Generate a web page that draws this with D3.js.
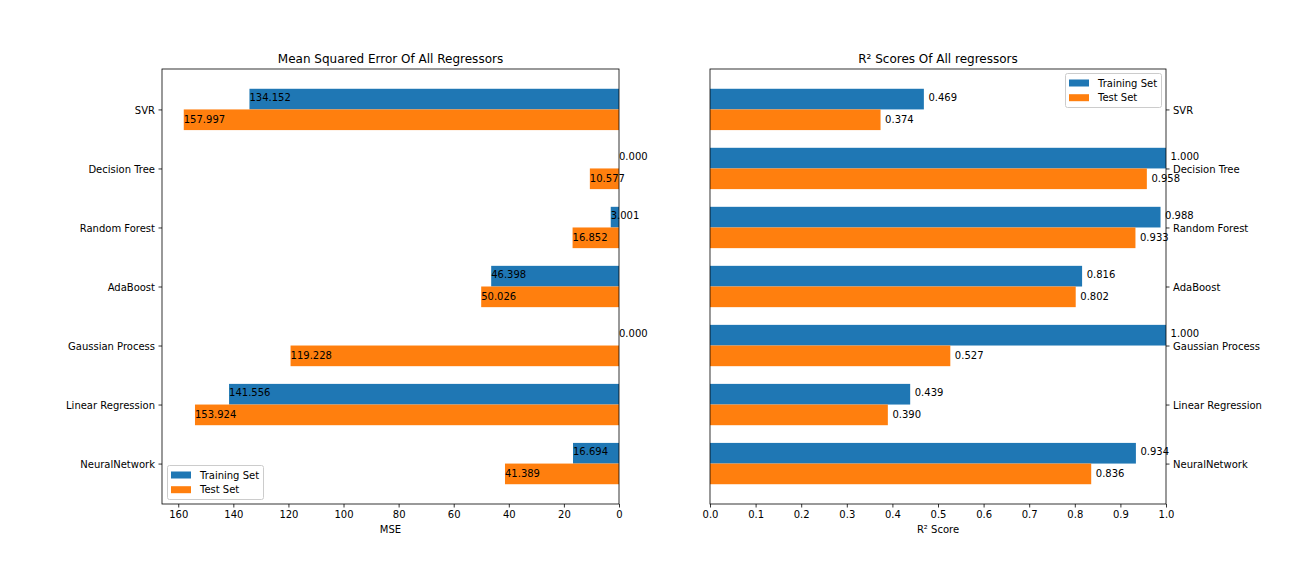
<!DOCTYPE html>
<html><head><meta charset="utf-8">
<script src="https://cdn.jsdelivr.net/npm/d3@7"></script>
<style>body{margin:0;background:#fff}svg{font-family:"DejaVu Sans",sans-serif}</style>
</head><body><svg id="c" width="1296" height="576"></svg>
<script>
const categories = ["SVR","Decision Tree","Random Forest","AdaBoost","Gaussian Process","Linear Regression","NeuralNetwork"];
const mseTrain = [134.152, 0.000, 3.001, 46.398, 0.000, 141.556, 16.694];
const mseTest = [157.997, 10.577, 16.852, 50.026, 119.228, 153.924, 41.389];
const r2Train = [0.469, 1.000, 0.988, 0.816, 1.000, 0.439, 0.934];
const r2Test = [0.374, 0.958, 0.933, 0.802, 0.527, 0.390, 0.836];
const mseTicks = [0,20,40,60,80,100,120,140,160];
const r2Ticks = [0,0.1,0.2,0.3,0.4,0.5,0.6,0.7,0.8,0.9,1.0];
const seriesNames = ["Training Set","Test Set"];
const colors = ["#1f77b4","#ff7f0e"];

const svg = d3.select("#c");
const plotTop = 69, plotBottom = 504, bw = 0.35;
const y = d3.scaleLinear().domain([-0.685, categories.length - 1 + 0.685]).range([plotTop, plotBottom]);
const fmt = d3.format(".3f");

function panel(x0, x1, xmax, train, test, ticks, tickFmt, title, xlabel, reversed, rightTicks, legendPos, labelOffset) {
  const x = d3.scaleLinear().domain([0, xmax]).range(reversed ? [x1, x0] : [x0, x1]);
  const g = svg.append("g");
  [train, test].forEach((vals, s) => {
    g.selectAll(null).data(vals).enter().append("rect")
      .attr("x", d => Math.min(x(0), x(d)))
      .attr("width", d => Math.abs(x(d) - x(0)))
      .attr("y", (d, i) => y(s === 0 ? i - bw : i))
      .attr("height", y(bw) - y(0))
      .attr("fill", colors[s]);
  });
  g.append("rect").attr("x", x0).attr("y", plotTop).attr("width", x1 - x0).attr("height", plotBottom - plotTop)
    .attr("fill", "none").attr("stroke", "#000").attr("stroke-width", 0.8);
  const xa = g.append("g").attr("transform", `translate(0,${plotBottom})`)
    .call(d3.axisBottom(x).tickValues(ticks).tickFormat(tickFmt).tickSize(3.5).tickPadding(3.5));
  xa.select(".domain").remove();
  xa.selectAll("text").attr("font-size", 10).attr("fill", "#000").attr("font-family", "DejaVu Sans");
  xa.selectAll("line").attr("stroke", "#000").attr("stroke-width", 0.8);
  const yAxis = rightTicks ? d3.axisRight(y) : d3.axisLeft(y);
  const ya = g.append("g").attr("transform", `translate(${rightTicks ? x1 : x0},0)`)
    .call(yAxis.tickValues(d3.range(categories.length)).tickFormat(i => categories[i]).tickSize(3.5).tickPadding(3.5));
  ya.select(".domain").remove();
  ya.selectAll("text").attr("font-size", 10).attr("fill", "#000").attr("font-family", "DejaVu Sans").attr("dy", "0.4em");
  ya.selectAll("line").attr("stroke", "#000").attr("stroke-width", 0.8);
  [train, test].forEach((vals, s) => {
    g.selectAll(null).data(vals).enter().append("text")
      .attr("x", d => x(d + labelOffset))
      .attr("y", (d, i) => y(s === 0 ? i - bw / 2 : i + bw / 2) + (s === 0 ? 1.5 : 3.5))
      .attr("font-size", 10).attr("fill", "#000")
      .text(d => fmt(d));
  });
  svg.append("text").attr("x", (x0 + x1) / 2).attr("y", plotTop - 6).attr("text-anchor", "middle")
    .attr("font-size", 12).text(title);
  svg.append("text").attr("x", (x0 + x1) / 2).attr("y", 533).attr("text-anchor", "middle")
    .attr("font-size", 10).text(xlabel);
  const lg = svg.append("g").attr("transform", `translate(${legendPos[0]},${legendPos[1]})`);
  lg.append("rect").attr("x", 0.5).attr("y", 0.5).attr("width", 96).attr("height", 34).attr("rx", 2)
    .attr("fill", "#fff").attr("fill-opacity", 0.8).attr("stroke", "#ccc").attr("stroke-width", 1);
  seriesNames.forEach((n, i) => {
    lg.append("rect").attr("x", 4).attr("y", 6.5 + i * 14.7).attr("width", 20).attr("height", 7).attr("fill", colors[i]);
    lg.append("text").attr("x", 33).attr("y", 13.5 + i * 14.5).attr("font-size", 10).text(n);
  });
}

panel(162, 619, 157.997 * 1.05, mseTrain, mseTest, mseTicks, d3.format("d"),
  "Mean Squared Error Of All Regressors", "MSE", true, false, [167, 465], 0);
panel(710, 1166, 1.0, r2Train, r2Test, r2Ticks, d3.format(".1f"),
  "R² Scores Of All regressors", "R² Score", false, true, [1065, 73], 0.01);
</script></body></html>
